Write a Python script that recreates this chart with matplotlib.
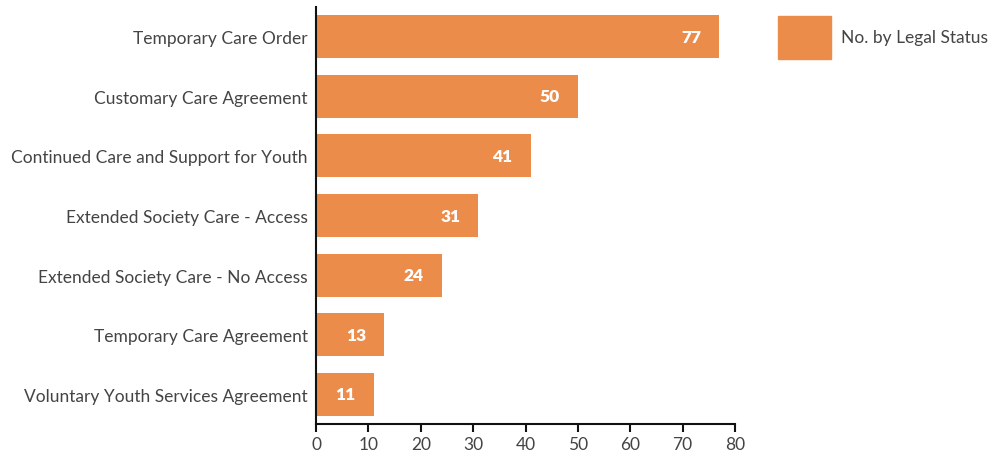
import matplotlib
matplotlib.use("Agg")
import matplotlib.pyplot as plt
from matplotlib.patches import Patch

categories = [
    "Temporary Care Order",
    "Customary Care Agreement",
    "Continued Care and Support for Youth",
    "Extended Society Care - Access",
    "Extended Society Care - No Access",
    "Temporary Care Agreement",
    "Voluntary Youth Services Agreement",
]
values = [77, 50, 41, 31, 24, 13, 11]
series_name = "No. by Legal Status"
xticks = [0, 10, 20, 30, 40, 50, 60, 70, 80]

color = "#EB8C4B"
text_color = "#444444"

plt.rcParams["font.family"] = ["Lato", "DejaVu Sans"]

fig = plt.figure(figsize=(9.95, 4.52), dpi=100)
ax = fig.add_axes([316 / 995, 27 / 452, (735 - 316) / 995, (425 - 8) / 452])

ypos = list(range(len(categories)))
bars = ax.barh(ypos, values, height=0.72, color=color, label=series_name)
ax.set_ylim(len(categories) - 0.5, -0.5)
ax.set_xlim(0, 80)
ax.set_yticks(ypos)
ax.set_yticklabels(categories, fontsize=12.5, color=text_color)
ax.set_xticks(xticks)
ax.set_xticklabels([str(t) for t in xticks], fontsize=12.5, color=text_color)

for s in ["top", "right"]:
    ax.spines[s].set_visible(False)
for s in ["left", "bottom"]:
    ax.spines[s].set_linewidth(1.5)
    ax.spines[s].set_color("#111111")
ax.tick_params(axis="y", length=0, pad=6)
ax.tick_params(axis="x", length=6, width=1.5, color="#111111", direction="out", pad=3)

for y, v in zip(ypos, values):
    ax.annotate(str(v), xy=(v, y), xytext=(-13, 0), textcoords="offset points",
                ha="right", va="center", color="white", fontsize=12.5, fontweight="heavy")

ax.legend(handles=[Patch(color=color, label=series_name)], loc="upper left",
          bbox_to_anchor=(778 / 995, 1 - 17 / 452), bbox_transform=fig.transFigure,
          frameon=False, fontsize=12.5, handlelength=3.05, handleheight=3.4,
          handletextpad=0.58, labelcolor=text_color, borderpad=0, borderaxespad=0)

fig.savefig("out.png", dpi=100)
